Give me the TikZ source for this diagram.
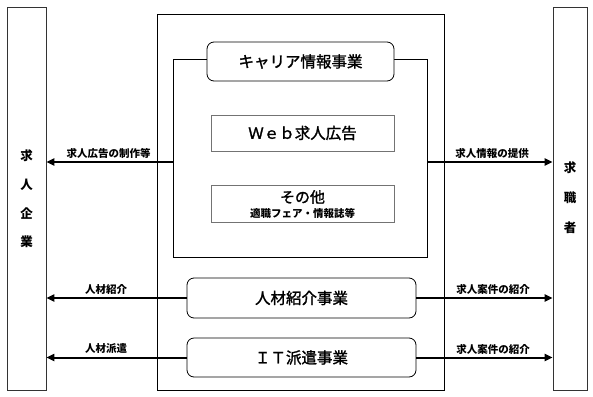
\documentclass[tikz,border=0pt]{standalone}
\usepackage{fontspec}
\newfontfamily\jp{Noto Sans CJK JP}
\newfontfamily\jpm[FakeBold=1.5]{Noto Sans CJK JP}
\usetikzlibrary{arrows.meta}
\begin{document}
\begin{tikzpicture}[x=1pt,y=-1pt,
  every node/.style={font=\jp},
  sidebox/.style={draw=black!80,line width=0.8pt,inner sep=0pt},
  bizbox/.style={draw,line width=0.8pt,rounded corners=7pt,fill=white,inner sep=0pt,font=\jpm\fontsize{15.5}{18}\selectfont},
  subbox/.style={draw=black!55,line width=0.7pt,inner sep=0pt},
  arr/.style={line width=2pt,-{Triangle[length=8pt,width=7pt]}},
  lab/.style={font=\jp\bfseries\fontsize{10.5}{12}\selectfont,inner sep=0pt}
]
\useasboundingbox (0,0) rectangle (593,396);
% side boxes
\node[sidebox,minimum width=39pt,minimum height=383pt] (kigyo) at (26.5,198.5) {};
\node[sidebox,minimum width=34pt,minimum height=383pt] (kyushoku) at (570,198.5) {};
\foreach \c/\yy in {求/156,人/185,企/214,業/242}
  \node[font=\jp\bfseries\fontsize{12.5}{14}\selectfont] at (kigyo.center |- 0,\yy) {\c};
\foreach \c/\yy in {求/168,職/198,者/228}
  \node[font=\jp\bfseries\fontsize{12.5}{14}\selectfont] at (kyushoku.center |- 0,\yy) {\c};
% outer central box
\node[draw,line width=0.8pt,minimum width=287pt,minimum height=376pt,inner sep=0pt] (outer) at (300.5,202) {};
% career frame
\node[draw,line width=0.8pt,minimum width=254pt,minimum height=198pt,inner sep=0pt] (frame) at (300,158) {};
\node[bizbox,minimum width=187pt,minimum height=39pt] (career) at (300.5,61.5) {キャリア情報事業};
\node[subbox,minimum width=183pt,minimum height=36pt,font=\jpm\fontsize{15.5}{18}\selectfont] (web) at (302.5,133) {Ｗｅｂ求人広告};
\node[subbox,minimum width=183pt,minimum height=37pt] (other) at (302.5,203.5) {};
\node[font=\jpm\fontsize{15}{17}\selectfont,inner sep=0pt] at (other.center |- 0,197) {その他};
\node[font=\jp\bfseries\fontsize{10.5}{12}\selectfont,inner sep=0pt] at (other.center |- 0,213) {適職フェア・情報誌等};
% business boxes
\node[bizbox,minimum width=229pt,minimum height=40pt] (jinzai) at (301.5,298) {人材紹介事業};
\node[bizbox,minimum width=229pt,minimum height=39pt] (it) at (301.5,357.5) {ＩＴ派遣事業};
% arrows
\coordinate (yA) at (0,162);
\draw[arr] (frame.west |- yA) -- (kigyo.east |- yA);
\draw[arr] (frame.east |- yA) -- (kyushoku.west |- yA);
\draw[arr] (jinzai.west) -- (kigyo.east |- jinzai.west);
\draw[arr] (jinzai.east) -- (kyushoku.west |- jinzai.east);
\draw[arr] (it.west) -- (kigyo.east |- it.west);
\draw[arr] (it.east) -- (kyushoku.west |- it.east);
% labels
\node[lab] (l1) at (108.5,153) {求人広告の制作等};
\node[lab] (l2) at (492,153) {求人情報の提供};
\node[lab] (l3) at (106,289) {人材紹介};
\node[lab] (l4) at (493,289) {求人案件の紹介};
\node[lab] (l5) at (106,349) {人材派遣};
\node[lab] (l6) at (493,349) {求人案件の紹介};
\end{tikzpicture}
\end{document}
